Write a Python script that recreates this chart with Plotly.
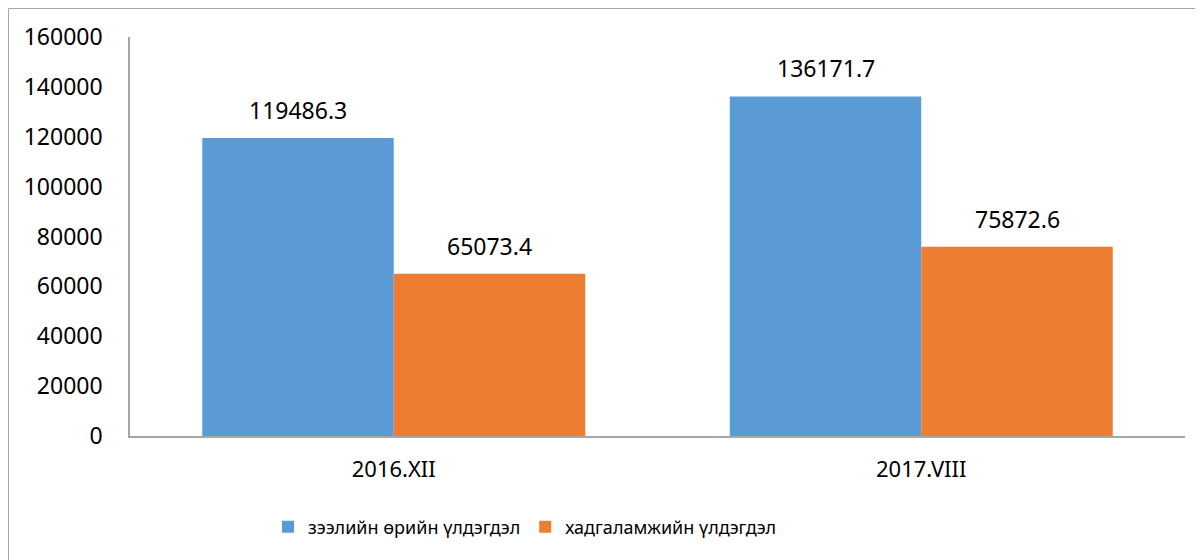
import plotly.graph_objects as go

categories = ["2016.XII", "2017.VIII"]
loan_balance = [119486.3, 136171.7]
deposit_balance = [65073.4, 75872.6]
series_names = ["зээлийн өрийн үлдэгдэл", "хадгаламжийн үлдэгдэл"]
y_ticks = [0, 20000, 40000, 60000, 80000, 100000, 120000, 140000, 160000]

BLUE = "#5B9BD5"
ORANGE = "#ED7D31"
FONT = "Noto Sans"

# page has an ~8px body offset; margins compensate for it
ML, MT, MR, MB = 122, 29, 26, 132
PW = 1203 - ML - MR
PH = 560 - MT - MB

fig = go.Figure()
fig.add_trace(go.Bar(x=categories, y=loan_balance, name=series_names[0],
                     marker=dict(color=BLUE, line=dict(width=0))))
fig.add_trace(go.Bar(x=categories, y=deposit_balance, name=series_names[1],
                     marker=dict(color=ORANGE, line=dict(width=0))))

# data labels
for i, cat in enumerate(categories):
    for j, vals in enumerate([loan_balance, deposit_balance]):
        fig.add_annotation(x=cat, y=vals[i], text=f"{vals[i]:.1f}",
                           xref="x", yref="y", showarrow=False,
                           xshift=(-95.75 if j == 0 else 95.75),
                           yshift=28, yanchor="middle",
                           font=dict(family=FONT, size=23, color="#000000"))

# outer frame
fig.add_shape(type="rect", xref="paper", yref="paper",
              x0=(0.5 - ML) / PW, x1=1.2, y0=-0.5, y1=1 + (MT - 0.5) / PH,
              line=dict(color="#a6a6a6", width=1), fillcolor="rgba(0,0,0,0)",
              layer="below")

fig.update_layout(
    width=1203, height=560,
    margin=dict(l=ML, r=MR, t=MT, b=MB),
    paper_bgcolor="white", plot_bgcolor="white",
    barmode="group", bargap=0.274, bargroupgap=0,
    font=dict(family=FONT, size=21, color="#000000"),
    showlegend=True,
    legend=dict(orientation="h", x=138 / PW, xanchor="left",
                y=-91 / PH, yanchor="middle",
                font=dict(family=FONT, size=18, color="#000000"),
                itemwidth=30, tracegroupgap=0,
                bgcolor="rgba(0,0,0,0)"),
    xaxis=dict(showline=True, linecolor="#a6a6a6", linewidth=1.5,
               showgrid=False, ticks="", ticklabelstandoff=13,
               tickfont=dict(family=FONT, size=22, color="#000000")),
    yaxis=dict(range=[0, 160000], tickvals=y_ticks,
               ticktext=[str(v) for v in y_ticks],
               showline=True, linecolor="#a6a6a6", linewidth=1.5,
               showgrid=False, zeroline=False, ticks="",
               ticklabelstandoff=21,
               tickfont=dict(family=FONT, size=23, color="#000000")),
)

fig.write_html("out.html")
